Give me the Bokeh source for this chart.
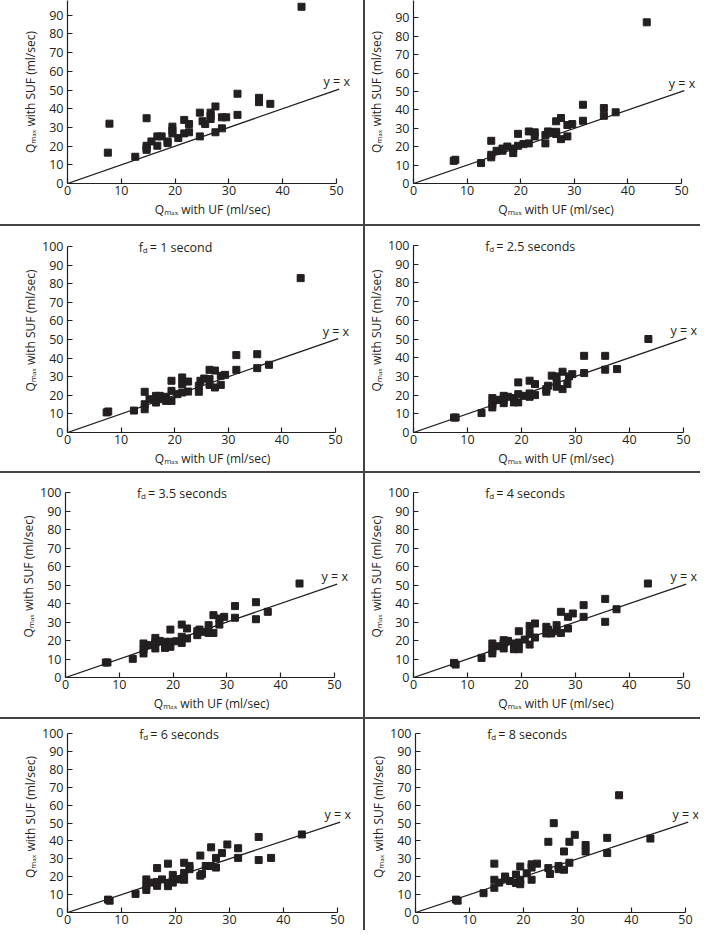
from bokeh.plotting import figure
from bokeh.layouts import row, column
from bokeh.models import Range1d, FixedTicker, Div, Label
from bokeh.embed import file_html
from bokeh.resources import INLINE

# ---------------- data ----------------
x_ticks = [0, 10, 20, 30, 40, 50]
y_ticks = [0, 10, 20, 30, 40, 50, 60, 70, 80, 90, 100]
identity_line = [0, 50.5]          # the y = x reference line

x_p1 = [43.5, 7.5, 7.8, 12.6, 14.7, 14.7, 14.7, 14.7, 15.6, 16.7, 16.7, 17.5, 18.6, 18.6, 19.5, 19.5, 19.5,
        20.6, 21.7, 21.7, 22.6, 22.6, 24.6, 24.6, 25.1, 25.6, 26.6, 26.6, 26.6, 27.5, 27.5, 28.7, 28.7, 29.5,
        31.6, 31.6, 35.6, 35.6, 37.7]
y_p1 = [94.5, 16.5, 32.0, 14.3, 34.9, 20.2, 19.0, 18.0, 22.5, 20.2, 25.2, 25.2, 22.5, 21.6, 30.4, 28.3, 26.8,
        24.3, 34.0, 26.8, 31.8, 27.4, 37.9, 25.2, 33.3, 31.8, 37.9, 36.3, 34.5, 41.2, 27.4, 35.4, 29.5, 35.4,
        48.0, 36.7, 45.8, 43.5, 42.6]

x_p2 = [43.5, 7.5, 7.8, 12.6, 14.5, 14.5, 14.5, 15.5, 16.6, 16.6, 17.5, 18.6, 18.6, 19.5, 19.5, 20.5, 21.5,
        21.5, 22.6, 22.6, 24.6, 24.6, 25.1, 25.6, 26.6, 26.6, 26.6, 27.5, 27.5, 28.7, 28.7, 29.6, 31.6, 31.6,
        35.5, 35.5, 37.7]
y_p2 = [87.6, 12.3, 12.9, 11.1, 23.2, 15.6, 14.2, 17.8, 17.8, 19.0, 20.1, 19.0, 16.5, 27.0, 20.5, 21.4, 28.3,
        21.8, 27.8, 25.6, 26.3, 21.8, 28.3, 27.8, 33.8, 28.1, 26.9, 35.6, 24.1, 31.8, 25.6, 32.3, 42.8, 34.1,
        41.0, 36.8, 38.7]

x_p3 = [43.5, 7.3, 7.6, 12.4, 14.4, 14.4, 14.4, 15.3, 16.5, 16.5, 17.2, 17.5, 18.4, 18.4, 19.4, 19.4, 19.4,
        20.5, 21.4, 21.4, 21.4, 22.5, 22.5, 24.5, 24.5, 24.8, 25.5, 26.5, 26.5, 26.5, 27.5, 27.5, 28.6, 28.6,
        29.4, 31.5, 31.5, 35.4, 35.4, 37.6]
y_p3 = [83.0, 10.8, 11.3, 11.8, 21.9, 15.2, 12.5, 17.9, 19.7, 16.1, 19.7, 17.9, 19.2, 17.0, 27.8, 22.4, 17.0,
        20.6, 29.6, 26.0, 21.5, 27.4, 22.0, 25.1, 21.9, 27.8, 29.0, 33.7, 28.7, 25.6, 33.3, 24.2, 30.5, 25.6,
        31.0, 41.6, 33.7, 42.1, 34.6, 36.4]

x_p4 = [43.5, 7.5, 7.8, 12.6, 14.6, 14.6, 14.6, 15.6, 16.7, 16.7, 16.7, 17.5, 18.6, 18.6, 19.4, 19.4, 19.4,
        20.5, 21.5, 21.5, 21.5, 22.5, 22.5, 24.6, 24.6, 24.9, 25.6, 26.5, 26.5, 26.5, 27.6, 27.6, 28.5, 28.8,
        29.4, 31.6, 31.6, 35.5, 35.5, 37.7]
y_p4 = [50.0, 8.0, 8.0, 10.4, 18.4, 15.2, 13.4, 17.5, 19.6, 17.5, 15.7, 19.1, 18.4, 16.1, 26.8, 20.5, 16.1,
        19.6, 27.7, 20.9, 19.1, 25.9, 20.0, 23.2, 21.8, 25.0, 30.4, 30.0, 26.3, 24.5, 32.5, 23.2, 25.9, 30.0,
        31.2, 41.0, 31.8, 41.0, 33.6, 33.9]

x_p5 = [43.5, 7.5, 7.8, 12.5, 14.5, 14.5, 14.5, 15.4, 16.7, 16.7, 16.7, 17.5, 18.5, 18.5, 19.5, 19.5, 19.5,
        20.6, 21.6, 21.6, 21.6, 22.6, 22.6, 24.5, 24.5, 24.9, 25.5, 26.6, 26.6, 27.5, 27.5, 28.6, 28.6, 29.5,
        31.5, 31.5, 35.4, 35.4, 37.6]
y_p5 = [50.8, 8.1, 8.1, 10.1, 18.4, 15.1, 13.0, 17.5, 21.4, 18.9, 15.7, 19.8, 19.3, 16.0, 25.9, 19.3, 16.6,
        19.6, 28.6, 22.0, 18.7, 26.5, 21.1, 25.0, 22.9, 25.9, 24.7, 28.3, 24.1, 33.7, 24.1, 28.6, 31.9, 32.8,
        38.6, 32.3, 40.7, 31.5, 35.5]

x_p6 = [43.4, 7.5, 7.8, 12.6, 14.6, 14.6, 14.6, 15.5, 16.7, 16.7, 16.7, 17.5, 18.6, 18.6, 19.5, 19.5, 19.5,
        20.6, 21.5, 21.5, 21.5, 22.5, 22.5, 24.6, 24.6, 24.9, 25.5, 26.5, 26.5, 27.3, 27.3, 28.6, 28.6, 29.5,
        31.5, 31.5, 35.5, 35.5, 37.6]
y_p6 = [50.8, 7.9, 7.0, 10.6, 18.4, 14.8, 13.0, 16.9, 20.2, 18.4, 15.7, 19.8, 18.4, 15.3, 25.0, 18.9, 15.3,
        20.5, 27.9, 23.8, 17.8, 29.2, 21.6, 27.4, 23.8, 25.9, 23.8, 28.3, 25.0, 35.5, 24.1, 32.8, 26.5, 34.6,
        39.1, 32.8, 42.5, 30.1, 36.9]

x_p7 = [43.4, 7.5, 7.8, 12.6, 14.6, 14.6, 14.6, 15.5, 16.6, 16.6, 16.6, 17.5, 18.6, 18.6, 18.6, 19.5, 19.5,
        20.6, 21.6, 21.6, 21.6, 22.6, 22.6, 24.6, 24.6, 24.9, 25.6, 26.6, 26.6, 27.5, 27.5, 28.6, 29.6, 31.6,
        31.6, 35.4, 35.4, 37.7]
y_p7 = [43.6, 7.2, 6.6, 10.4, 18.5, 14.9, 12.6, 16.7, 24.8, 17.1, 14.9, 18.5, 27.3, 16.2, 14.7, 21.0, 16.7,
        18.5, 27.8, 22.1, 18.3, 26.0, 24.2, 31.8, 20.6, 21.5, 26.0, 36.4, 26.0, 30.5, 25.1, 33.2, 38.0, 35.9,
        30.5, 42.2, 29.3, 30.5]

x_p8 = [43.5, 7.5, 7.8, 12.6, 14.6, 14.6, 14.6, 15.5, 16.6, 16.6, 17.5, 18.6, 18.6, 19.4, 19.4, 19.4, 20.6,
        21.5, 21.5, 21.5, 22.5, 24.6, 24.6, 24.9, 25.6, 26.5, 26.5, 27.5, 27.5, 28.5, 28.5, 29.5, 31.5, 31.5,
        35.5, 35.5, 37.7]
y_p8 = [41.3, 7.2, 6.6, 10.8, 27.3, 18.3, 13.8, 16.7, 20.1, 18.9, 17.6, 21.2, 16.5, 25.7, 18.3, 15.8, 21.9,
        26.9, 25.1, 18.3, 27.3, 39.5, 24.8, 21.5, 49.9, 26.0, 24.2, 34.1, 23.9, 39.5, 27.8, 43.4, 37.7, 34.1,
        41.7, 33.2, 65.5]

panel_titles = [None, None, "1 second", "2.5 seconds", "3.5 seconds", "4 seconds", "6 seconds", "8 seconds"]

# ---------------- styling ----------------
FONT = "Open Sans"
INK = "#231f20"
SEP = "#444444"
X_LABEL = "Q\u2098\u2090\u2093 with UF (ml/sec)"
Y_LABEL = "Q\u2098\u2090\u2093 with SUF (ml/sec)"


def make_panel(xs, ys, title, W, H, px0, px50, py0, py100, top, right_pad, show_xlabel, ylab_standoff):
    frame_right = W - right_pad
    x_end = 50.0 * (frame_right - px0) / (px50 - px0)
    y_end = 100.0 * (py0 - top) / (py0 - py100)
    p = figure(width=W, height=H, x_range=Range1d(0, x_end), y_range=Range1d(0, y_end),
               output_backend="svg", toolbar_location=None, tools="",
               min_border_left=px0, min_border_right=right_pad,
               min_border_top=top, min_border_bottom=H - py0)
    p.xgrid.visible = False
    p.ygrid.visible = False
    p.outline_line_color = None
    p.background_fill_color = "white"
    p.border_fill_color = "white"

    xa, ya = p.xaxis[0], p.yaxis[0]
    xa.ticker = FixedTicker(ticks=x_ticks)
    ya.ticker = FixedTicker(ticks=y_ticks)
    xa.bounds = (x_ticks[0], x_ticks[-1])
    ya.bounds = (y_ticks[0], y_ticks[-1])
    for ax in (xa, ya):
        ax.axis_line_color = INK
        ax.axis_line_width = 1.2
        ax.major_tick_line_color = INK
        ax.major_tick_line_width = 1.2
        ax.major_tick_in = 5
        ax.major_tick_out = 0
        ax.minor_tick_line_color = None
        ax.major_label_text_font = FONT
        ax.major_label_text_font_size = "12.5px"
        ax.major_label_text_color = INK
        ax.axis_label_text_font = FONT
        ax.axis_label_text_font_size = "12px"
        ax.axis_label_text_font_style = "normal"
        ax.axis_label_text_color = INK
    xa.major_label_standoff = 2
    ya.major_label_standoff = 4
    ya.axis_label = Y_LABEL
    ya.axis_label_standoff = ylab_standoff
    if show_xlabel:
        xa.axis_label = X_LABEL
        xa.axis_label_standoff = 3

    p.line(identity_line, identity_line, line_color=INK, line_width=1.3)
    p.scatter(xs, ys, marker="square", size=7, fill_color=INK, line_color=INK)

    p.add_layout(Label(x=47.6, y=54.5, text="y = x", text_font=FONT, text_font_size="12.5px",
                       text_color=INK, text_baseline="alphabetic"))
    if title:
        p.add_layout(Label(x=13.3, y=99.3, text="f", text_font=FONT, text_font_size="12.5px",
                           text_color=INK, text_baseline="alphabetic"))
        p.add_layout(Label(x=13.3, y=99.3, x_offset=4, y_offset=-2, text="d", text_font=FONT,
                           text_font_size="8px", text_color=INK, text_baseline="alphabetic"))
        p.add_layout(Label(x=13.3, y=99.3, x_offset=11, text="= " + title, text_font=FONT,
                           text_font_size="12.5px", text_color=INK, text_baseline="alphabetic"))
    return p


LEFT_W, RIGHT_W, TOTAL_W = 363, 335, 700
# (height, top border, left geometry, right geometry, show x label, y-label standoff)
rows_geom = [
    (224, 0, (67, 336, 183, -4), (46, 316, 183, -1), True, 7),
    (245, 2, (67, 335, 206, 20), (48, 318, 206, 19), True, 0),
    (244, 2, (65, 334, 204, 19), (48, 318, 204, 19), True, 0),
    (211, 2, (67, 337, 193, 14), (50, 320, 193, 14), False, 0),
]
series = [(x_p1, y_p1), (x_p2, y_p2), (x_p3, y_p3), (x_p4, y_p4),
          (x_p5, y_p5), (x_p6, y_p6), (x_p7, y_p7), (x_p8, y_p8)]

children = []
for r, (H, top, lg, rg, showx, yls) in enumerate(rows_geom):
    (xl, yl), (xr, yr) = series[2 * r], series[2 * r + 1]
    pl = make_panel(xl, yl, panel_titles[2 * r], LEFT_W, H, *lg, top, 6, showx, yls)
    pr = make_panel(xr, yr, panel_titles[2 * r + 1], RIGHT_W, H, *rg, top, 2, showx, yls)
    vsep = Div(text="", width=2, height=H, margin=(0, 0, 0, 0), styles={"background-color": SEP})
    if r > 0:
        children.append(Div(text="", width=TOTAL_W, height=2, margin=(0, 0, 0, 0),
                            styles={"background-color": SEP}))
    children.append(row(pl, vsep, pr, spacing=0))

layout = column(*children, spacing=0)

open("out.html", "w").write(file_html(layout, INLINE))
